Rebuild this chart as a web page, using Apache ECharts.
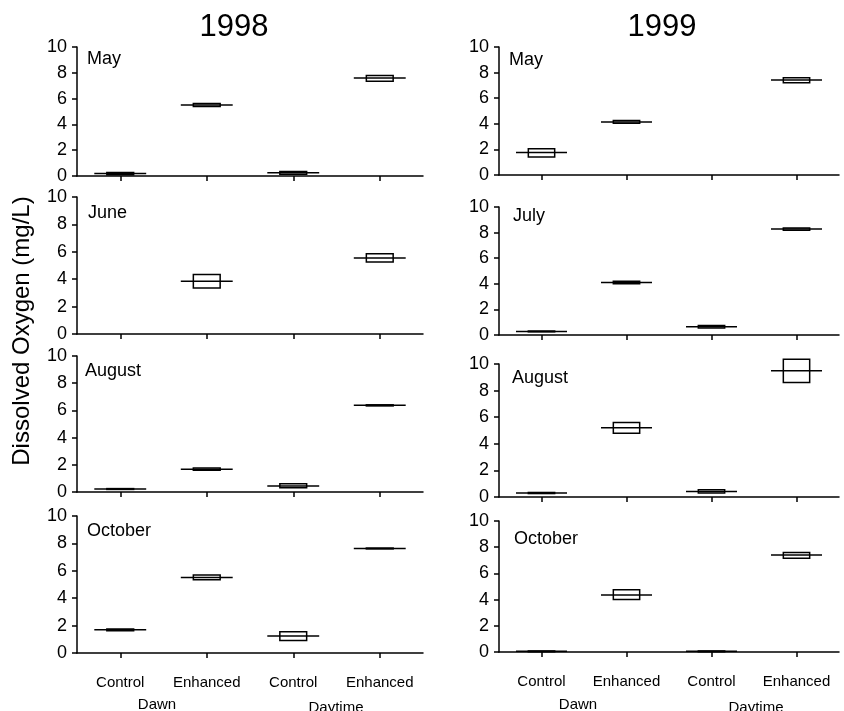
<!DOCTYPE html>
<html>
<head>
<meta charset="utf-8">
<script src="https://cdn.jsdelivr.net/npm/echarts@6/dist/echarts.min.js"></script>
<style>
  html, body { margin: 0; padding: 0; background: #fff; }
  #chart { width: 844px; height: 711px; }
</style>
</head>
<body>
<div id="chart"></div>
<script>
// x axis: treatment, grouped by time of day
const categories = ['Control', 'Enhanced', 'Control', 'Enhanced'];
const periods = ['Dawn', 'Daytime'];
const years = ['1998', '1999'];
const months1998 = ['May', 'June', 'August', 'October'];
const months1999 = ['May', 'July', 'August', 'October'];
const yMin = 0;
const yMax = 10;
const yStep = 2;

// one entry per category: [median, lower quartile, upper quartile], null = no box
const may1998 = [[0.2, 0.1, 0.28], [5.5, 5.38, 5.62], [0.25, 0.13, 0.35], [7.6, 7.35, 7.8]];
const june1998 = [null, [3.85, 3.35, 4.35], null, [5.55, 5.25, 5.85]];
const august1998 = [[0.22, 0.19, 0.25], [1.68, 1.6, 1.76], [0.45, 0.32, 0.6], [6.37, 6.33, 6.41]];
const october1998 = [[1.7, 1.62, 1.76], [5.52, 5.35, 5.7], [1.25, 0.92, 1.55], [7.63, 7.6, 7.66]];
const may1999 = [[1.75, 1.4, 2.05], [4.15, 4.05, 4.25], null, [7.42, 7.2, 7.6]];
const july1999 = [[0.28, 0.25, 0.31], [4.1, 4.0, 4.2], [0.65, 0.55, 0.75], [8.28, 8.18, 8.36]];
const august1999 = [[0.3, 0.26, 0.34], [5.2, 4.8, 5.6], [0.42, 0.3, 0.55], [9.5, 8.6, 10.35]];
const october1999 = [[0.05, 0.02, 0.08], [4.35, 4.0, 4.75], [0.05, 0.02, 0.08], [7.4, 7.15, 7.6]];

const FONT = '"Liberation Sans", Arial, Helvetica, sans-serif';

const panels = [
  { data: may1998, month: months1998[0], left: 77, top: 47, width: 346, height: 129, lx: 87, ly: 59 },
  { data: june1998, month: months1998[1], left: 77, top: 197, width: 346, height: 137, lx: 88, ly: 213 },
  { data: august1998, month: months1998[2], left: 77, top: 356, width: 346, height: 136, lx: 85, ly: 371 },
  { data: october1998, month: months1998[3], left: 77, top: 516, width: 346, height: 137, lx: 87, ly: 531 },
  { data: may1999, month: months1999[0], left: 499, top: 47, width: 340, height: 128, lx: 509, ly: 60 },
  { data: july1999, month: months1999[1], left: 499, top: 207, width: 340, height: 128, lx: 513, ly: 216 },
  { data: august1999, month: months1999[2], left: 499, top: 364, width: 340, height: 133, lx: 512, ly: 378 },
  { data: october1999, month: months1999[3], left: 499, top: 521, width: 340, height: 131, lx: 514, ly: 539 },
];

const axisLineStyle = { color: '#000', width: 1.5 };

function renderBox(params, api) {
  const x = api.value(0);
  const med = api.coord([x, api.value(1)]);
  const lo = api.coord([x, api.value(2)]);
  const hi = api.coord([x, api.value(3)]);
  const band = api.size([1, 0])[0];
  const boxW = band * 0.31;
  const lineW = band * 0.6;
  return {
    type: 'group',
    children: [
      {
        type: 'rect',
        shape: { x: med[0] - boxW / 2, y: hi[1], width: boxW, height: Math.max(lo[1] - hi[1], 0.5) },
        style: { fill: '#fff', stroke: '#000', lineWidth: 1.5 }
      },
      {
        type: 'line',
        shape: { x1: med[0] - lineW / 2, y1: med[1], x2: med[0] + lineW / 2, y2: med[1] },
        style: { stroke: '#000', lineWidth: 1.5 }
      }
    ]
  };
}

const chart = echarts.init(document.getElementById('chart'));

const graphic = [
  { type: 'text', x: 234, y: 27, style: { text: years[0], font: '31px ' + FONT, fill: '#000', textAlign: 'center', textVerticalAlign: 'middle' } },
  { type: 'text', x: 662, y: 27, style: { text: years[1], font: '31px ' + FONT, fill: '#000', textAlign: 'center', textVerticalAlign: 'middle' } },
  { type: 'text', x: 22, y: 331, rotation: Math.PI / 2, style: { text: 'Dissolved Oxygen (mg/L)', font: '24px ' + FONT, fill: '#000', textAlign: 'center', textVerticalAlign: 'middle' } },
  { type: 'text', x: 157, y: 705, style: { text: periods[0], font: '15px ' + FONT, fill: '#000', textAlign: 'center', textVerticalAlign: 'middle' } },
  { type: 'text', x: 336, y: 708, style: { text: periods[1], font: '15px ' + FONT, fill: '#000', textAlign: 'center', textVerticalAlign: 'middle' } },
  { type: 'text', x: 578, y: 705, style: { text: periods[0], font: '15px ' + FONT, fill: '#000', textAlign: 'center', textVerticalAlign: 'middle' } },
  { type: 'text', x: 756, y: 708, style: { text: periods[1], font: '15px ' + FONT, fill: '#000', textAlign: 'center', textVerticalAlign: 'middle' } },
];
panels.forEach((p) => {
  graphic.push({ type: 'text', x: p.lx, y: p.ly, style: { text: p.month, font: '18px ' + FONT, fill: '#000', textAlign: 'left', textVerticalAlign: 'middle' } });
});

const option = {
  animation: false,
  backgroundColor: '#fff',
  textStyle: { fontFamily: FONT },
  grid: panels.map((p) => ({
    left: p.left, top: p.top, width: p.width, height: p.height,
    containLabel: false, outerBoundsMode: 'none'
  })),
  xAxis: panels.map((p, i) => ({
    gridIndex: i,
    type: 'category',
    data: categories,
    boundaryGap: true,
    axisLine: { show: true, lineStyle: axisLineStyle },
    axisTick: { show: true, alignWithLabel: true, interval: 0, length: 5, lineStyle: axisLineStyle },
    axisLabel: { show: i === 3 || i === 7, interval: 0, color: '#000', fontSize: 15, margin: 22, fontFamily: FONT },
    splitLine: { show: false }
  })),
  yAxis: panels.map((p, i) => ({
    gridIndex: i,
    type: 'value',
    min: yMin,
    max: yMax,
    interval: yStep,
    axisLine: { show: true, lineStyle: axisLineStyle },
    axisTick: { show: true, length: 5, lineStyle: axisLineStyle },
    axisLabel: { color: '#000', fontSize: 18, margin: 10, fontFamily: FONT },
    splitLine: { show: false }
  })),
  series: panels.map((p, i) => ({
    type: 'custom',
    xAxisIndex: i,
    yAxisIndex: i,
    clip: false,
    renderItem: renderBox,
    encode: { x: 0, y: [1, 2, 3] },
    data: p.data
      .map((d, j) => (d ? [j, d[0], d[1], d[2]] : null))
      .filter((d) => d !== null)
  })),
  graphic: graphic
};

chart.setOption(option);
</script>
</body>
</html>
